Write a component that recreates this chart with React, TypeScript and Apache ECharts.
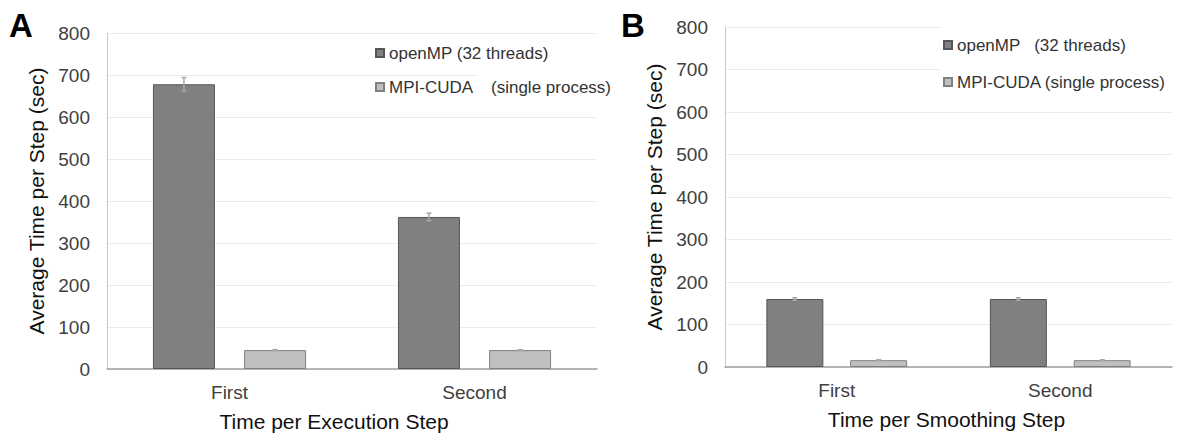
import React, { useEffect, useRef } from "react";
import * as echarts from "echarts";

const categories = ["First", "Second"];
const execOpenMP = [678, 362];
const execOpenMPErr = [16, 9];
const execCuda = [45, 45];
const execCudaErr = [1, 1];
const smoothOpenMP = [160, 160];
const smoothOpenMPErr = [3, 3];
const smoothCuda = [16, 16];
const smoothCudaErr = [1, 1];

const nameOpenMPA = "openMP (32 threads)";
const nameCudaA = "MPI-CUDA    (single process)";
const nameOpenMPB = "openMP   (32 threads)";
const nameCudaB = "MPI-CUDA (single process)";

const FONT = "Liberation Sans, Arial, sans-serif";
const OFFSET_A = 0.186;
const OFFSET_B = 0.188;

function errData(vals: number[], errs: number[], off: number) {
  return vals.map((v, i) => [i, v, errs[i], off]);
}

const renderErr = (params: any, api: any) => {
  const x = api.value(0);
  const v = api.value(1);
  const e = api.value(2);
  const off = api.value(3);
  const bw = api.size([1, 0])[0];
  const cx = api.coord([x, v])[0] + off * bw;
  const top = api.coord([x, v + e])[1];
  const bot = api.coord([x, v - e])[1];
  const style = { stroke: "#a8a8a8", lineWidth: 1.5 };
  return {
    type: "group",
    children: [
      { type: "line", shape: { x1: cx, y1: top, x2: cx, y2: bot }, style },
      { type: "line", shape: { x1: cx - 2.5, y1: top, x2: cx + 2.5, y2: top }, style },
      { type: "line", shape: { x1: cx - 2.5, y1: bot, x2: cx + 2.5, y2: bot }, style },
    ],
  };
};

export default function App() {
  const ref = useRef<HTMLDivElement>(null);
  useEffect(() => {
    if (!ref.current) return;
    const chart = echarts.init(ref.current, undefined, { renderer: "svg" });
    const xAxisCommon = (gridIndex: number, name: string, shift: number) => ({
      type: "category",
      gridIndex,
      data: categories,
      name,
      nameLocation: "middle",
      nameGap: 42,
      nameTextStyle: { fontFamily: FONT, fontSize: 21, color: "#111", padding: [0, shift, 0, 0] },
      axisLine: { show: true, lineStyle: { color: "#a0a0a0", width: 1.5 } },
      axisTick: { show: false },
      axisLabel: { fontFamily: FONT, fontSize: 19, color: "#404040", margin: 14 },
    });
    const yAxisCommon = (gridIndex: number) => ({
      type: "value",
      gridIndex,
      min: 0,
      max: 800,
      interval: 100,
      name: "Average Time per Step (sec)",
      nameLocation: "middle",
      nameGap: 60,
      nameTextStyle: { fontFamily: FONT, fontSize: 21, color: "#111" },
      axisLine: { show: true, lineStyle: { color: "#c8c8c8", width: 1 } },
      axisTick: { show: false },
      axisLabel: { fontFamily: FONT, fontSize: 19, color: "#404040", margin: 17 },
      splitLine: { lineStyle: { color: "#ececec", width: 1 } },
    });
    const darkStyle = { color: "#808080", borderColor: "#555", borderWidth: 1 };
    const lightStyle = { color: "#bfbfbf", borderColor: "#808080", borderWidth: 1 };
    const legendCommon = {
      orient: "vertical",
      itemWidth: 8,
      itemHeight: 8,
      icon: "rect",
      padding: 0,
      textStyle: { fontFamily: FONT, fontSize: 17, lineHeight: 18, color: "#333" },
    };
    chart.setOption({
      animation: false,
      backgroundColor: "#fff",
      grid: [
        { left: 107, right: 589, top: 33, bottom: 65, outerBoundsMode: "none" },
        { left: 725, right: 14, top: 27, bottom: 67, outerBoundsMode: "none" },
      ],
      legend: [
        { ...legendCommon, left: 375, top: 44, itemGap: 16, data: [nameOpenMPA, nameCudaA] },
        { ...legendCommon, left: 943, top: 36, itemGap: 19, data: [nameOpenMPB, nameCudaB] },
      ],
      xAxis: [xAxisCommon(0, "Time per Execution Step", 36), xAxisCommon(1, "Time per Smoothing Step", 4)],
      yAxis: [yAxisCommon(0), yAxisCommon(1)],
      graphic: [
        { type: "rect", z: 1, shape: { x: 478, y: 62, width: 140, height: 40 }, style: { fill: "#fff" } },
        { type: "rect", z: 1, shape: { x: 941, y: 20, width: 245, height: 76 }, style: { fill: "#fff" } },
        { type: "text", z: 5, left: 9, top: 9, style: { text: "A", font: `bold 33px ${FONT}`, fill: "#000" } },
        { type: "text", z: 5, left: 621, top: 9, style: { text: "B", font: `bold 33px ${FONT}`, fill: "#000" } },
      ],
      series: [
        { name: nameOpenMPA, type: "bar", xAxisIndex: 0, yAxisIndex: 0, data: execOpenMP, barWidth: "25.3%", barGap: "47%", itemStyle: darkStyle },
        { name: nameCudaA, type: "bar", xAxisIndex: 0, yAxisIndex: 0, data: execCuda, barWidth: "25.3%", barGap: "47%", itemStyle: lightStyle },
        { name: nameOpenMPB, type: "bar", xAxisIndex: 1, yAxisIndex: 1, data: smoothOpenMP, barWidth: "25.5%", barGap: "47%", itemStyle: darkStyle },
        { name: nameCudaB, type: "bar", xAxisIndex: 1, yAxisIndex: 1, data: smoothCuda, barWidth: "25.5%", barGap: "47%", itemStyle: lightStyle },
        { type: "custom", xAxisIndex: 0, yAxisIndex: 0, z: 5, renderItem: renderErr, data: errData(execOpenMP, execOpenMPErr, -OFFSET_A) },
        { type: "custom", xAxisIndex: 0, yAxisIndex: 0, z: 5, renderItem: renderErr, data: errData(execCuda, execCudaErr, OFFSET_A) },
        { type: "custom", xAxisIndex: 1, yAxisIndex: 1, z: 5, renderItem: renderErr, data: errData(smoothOpenMP, smoothOpenMPErr, -OFFSET_B) },
        { type: "custom", xAxisIndex: 1, yAxisIndex: 1, z: 5, renderItem: renderErr, data: errData(smoothCuda, smoothCudaErr, OFFSET_B) },
      ],
    });
    return () => chart.dispose();
  }, []);
  return <div ref={ref} style={{ position: "absolute", left: 0, top: 0, width: 1186, height: 434 }} />;
}
